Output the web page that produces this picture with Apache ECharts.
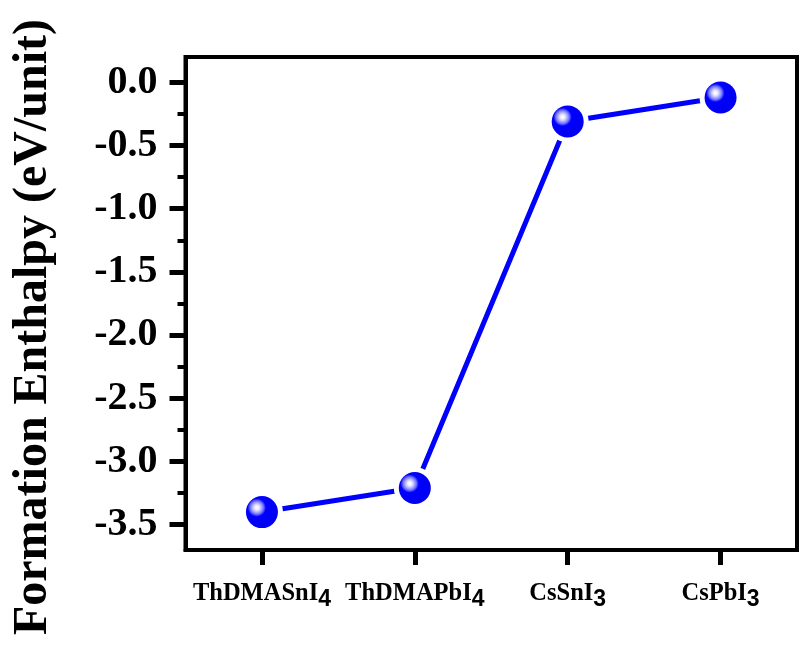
<!DOCTYPE html>
<html>
<head>
<meta charset="utf-8">
<script src="https://cdn.jsdelivr.net/npm/echarts@6/dist/echarts.min.js"></script>
<style>
  html, body { margin: 0; padding: 0; background: #fff; }
  #chart { width: 802px; height: 646px; }
</style>
</head>
<body>
<div id="chart"></div>
<script>
// Compounds (trailing digit is drawn as a subscript)
const categories = ['ThDMASnI4', 'ThDMAPbI4', 'CsSnI3', 'CsPbI3'];
// Formation enthalpy, eV per formula unit
const enthalpy = [-3.40, -3.21, -0.31, -0.12];
// Axis ticks
const majorTicks = [0.0, -0.5, -1.0, -1.5, -2.0, -2.5, -3.0, -3.5];
const minorTicks = [-0.25, -0.75, -1.25, -1.75, -2.25, -2.75, -3.25];
const yTitle = 'Formation Enthalpy (eV/unit)';

const serif = '"Liberation Serif", "Times New Roman", serif';
const sans = '"Liberation Sans", Arial, sans-serif';

const chart = echarts.init(document.getElementById('chart'), null, { renderer: 'canvas' });

const sphere = {
  type: 'radial', x: 0.34, y: 0.36, r: 0.62,
  colorStops: [
    { offset: 0.0, color: '#ffffff' },
    { offset: 0.10, color: '#f0f0ff' },
    { offset: 0.20, color: '#c0c0ff' },
    { offset: 0.34, color: '#7070ff' },
    { offset: 0.46, color: '#0000ff' },
    { offset: 1.0, color: '#0000f2' }
  ]
};

chart.setOption({
  animation: false,
  backgroundColor: '#ffffff',
  grid: {
    left: 185.5, right: 5, top: 57, bottom: 96,
    show: true, borderColor: '#000', borderWidth: 4,
    backgroundColor: 'transparent'
  },
  xAxis: {
    type: 'category',
    data: categories,
    boundaryGap: true,
    axisLine: { show: true, onZero: false, lineStyle: { color: '#000', width: 4 } },
    axisTick: { show: true, inside: false, alignWithLabel: true, interval: 0, length: 15, lineStyle: { color: '#000', width: 5 } },
    axisLabel: {
      margin: 26,
      interval: 0,
      formatter: function (v) {
        const m = v.match(/^(.*?)(\d)$/);
        return m ? '{a|' + m[1] + '}{s|' + m[2] + '}' : '{a|' + v + '}';
      },
      rich: {
        a: { fontFamily: serif, fontWeight: 'bold', fontSize: 24.5, color: '#000' },
        s: { fontFamily: sans, fontWeight: 'bold', fontSize: 23, color: '#000', padding: [12, 0, 0, 0] }
      }
    },
    splitLine: { show: false }
  },
  yAxis: [
    {
      type: 'value', min: -3.7, max: 0.2, position: 'left',
      axisLine: { show: true, lineStyle: { color: '#000', width: 4 } },
      axisTick: { show: true, customValues: majorTicks, length: 16, lineStyle: { color: '#000', width: 5 } },
      axisLabel: {
        customValues: majorTicks, margin: 28,
        fontFamily: serif, fontWeight: 'bold', fontSize: 40, color: '#000',
        formatter: function (v) { return v.toFixed(1); }
      },
      splitLine: { show: false }
    },
    {
      type: 'value', min: -3.7, max: 0.2, position: 'left',
      axisLine: { show: false },
      axisTick: { show: true, customValues: minorTicks, length: 8, lineStyle: { color: '#000', width: 4 } },
      axisLabel: { show: false },
      splitLine: { show: false }
    }
  ],
  graphic: [{
    type: 'text',
    x: 34, y: 327,
    rotation: Math.PI / 2,
    style: {
      text: yTitle,
      fontFamily: serif, fontWeight: 'bold', fontSize: 48, fill: '#000',
      textAlign: 'center', textVerticalAlign: 'middle'
    }
  }],
  series: [
    {
      // connecting line, with white discs leaving a gap round each point
      type: 'line',
      data: enthalpy,
      yAxisIndex: 0,
      lineStyle: { color: '#0000ff', width: 5 },
      symbol: 'circle', symbolSize: 42,
      itemStyle: { color: '#ffffff', borderWidth: 0 },
      z: 2
    },
    {
      // shaded spheres
      type: 'scatter',
      data: enthalpy,
      yAxisIndex: 0,
      symbol: 'circle', symbolSize: 32,
      itemStyle: { color: sphere, opacity: 1 },
      z: 3
    }
  ]
});
</script>
</body>
</html>
